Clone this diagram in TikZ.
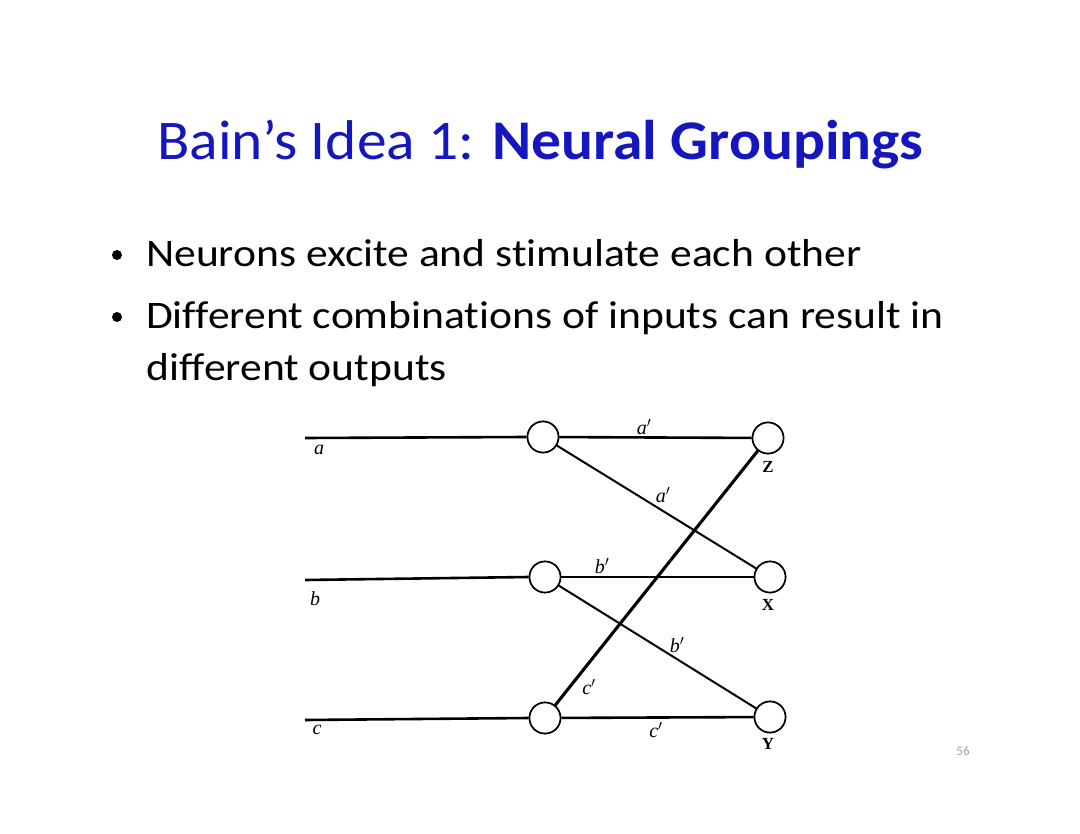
\documentclass[tikz,border=0pt]{standalone}
\usepackage{fontspec}
\setmainfont[Ligatures=NoCommon]{Carlito}
\newfontfamily\oldserif{Liberation Serif}
\definecolor{titleblue}{RGB}{22,22,190}
\definecolor{pagegray}{RGB}{160,160,160}
\begin{document}
\begin{tikzpicture}[x=1pt,y=-1pt,
  neuron/.style={circle,draw,line width=1.6pt,minimum size=31pt,inner sep=0pt,fill=white},
  fiber/.style={line width=2.6pt},
  thinfiber/.style={line width=2pt},
  lbl/.style={font=\oldserif\itshape\fontsize{20}{20}\selectfont,inner sep=0pt},
  outl/.style={font=\oldserif\bfseries\fontsize{17}{17}\selectfont,inner sep=0pt},
  bullettext/.style={font=\fontsize{39}{44}\selectfont,anchor=base west,inner sep=0pt},
  bulletdot/.style={circle,fill=black,inner sep=0pt,minimum size=10pt}]
\useasboundingbox[fill=white] (0,0) rectangle (1080,834);
% title
\node[anchor=base west,inner sep=0pt,text=titleblue,font=\fontsize{56}{60}\selectfont] (title) at (157,160) {\scalebox{1.062}[1]{Bain’s Idea 1: \textbf{Neural Groupings}}};
% bullets
\node[bulletdot] (b1dot) at (117,255) {};
\node[bullettext] (b1) at (146,267) {\scalebox{1.117}[1]{Neurons excite and stimulate each other}};
\node[bulletdot] (b2dot) at (117,317) {};
\node[bullettext] (b2) at (146,329) {\scalebox{1.117}[1]{Different combinations of inputs can result in}};
\node[bullettext] (b3) at (146,381) {\scalebox{1.117}[1]{different outputs}};
% diagram
\coordinate (ain) at (305,438);
\coordinate (bin) at (305,580);
\coordinate (cin) at (305,720);
\node[neuron] (A) at (543,437) {};
\node[neuron] (B) at (545,577) {};
\node[neuron] (C) at (545,718) {};
\node[neuron] (Z) at (768,438) {};
\node[neuron] (X) at (770,577) {};
\node[neuron] (Y) at (770,717) {};
\draw[fiber] (ain) -- (A.west);
\draw[fiber] (bin) -- (B.west);
\draw[fiber] (cin) -- (C.west);
\draw[fiber] (A) -- (Z);
\draw[thinfiber] (A) -- (X);
\draw[fiber] (B) -- (X);
\draw[thinfiber] (B) -- (Y);
\draw[fiber] (C) -- (Y);
\draw[line width=3.1pt] (C) -- (Z);
% redraw circles on top
\foreach \n in {A,B,C,X,Y,Z}{\draw[line width=1.6pt,fill=white] (\n) circle (15.5pt);}
% labels
\node[lbl] (la) at (319,450) {a};
\node[lbl] (lb) at (315,599) {b};
\node[lbl] (lc) at (317,730) {c};
\node[lbl] (la1) at (644,427) {a$'$};
\node[lbl] (la2) at (663,495) {a$'$};
\node[lbl] (lb1) at (602,566) {b$'$};
\node[lbl] (lb2) at (677,645) {b$'$};
\node[lbl] (lc1) at (589,687) {c$'$};
\node[lbl] (lc2) at (656,730) {c$'$};
\node[outl] (lz) at (768,467) {Z};
\node[outl] (lx) at (768,605) {X};
\node[outl] (ly) at (768,744) {Y};
% page number
\node[text=pagegray,font=\fontsize{13}{13}\selectfont,inner sep=0pt] (pg) at (963,751) {56};
\end{tikzpicture}
\end{document}
